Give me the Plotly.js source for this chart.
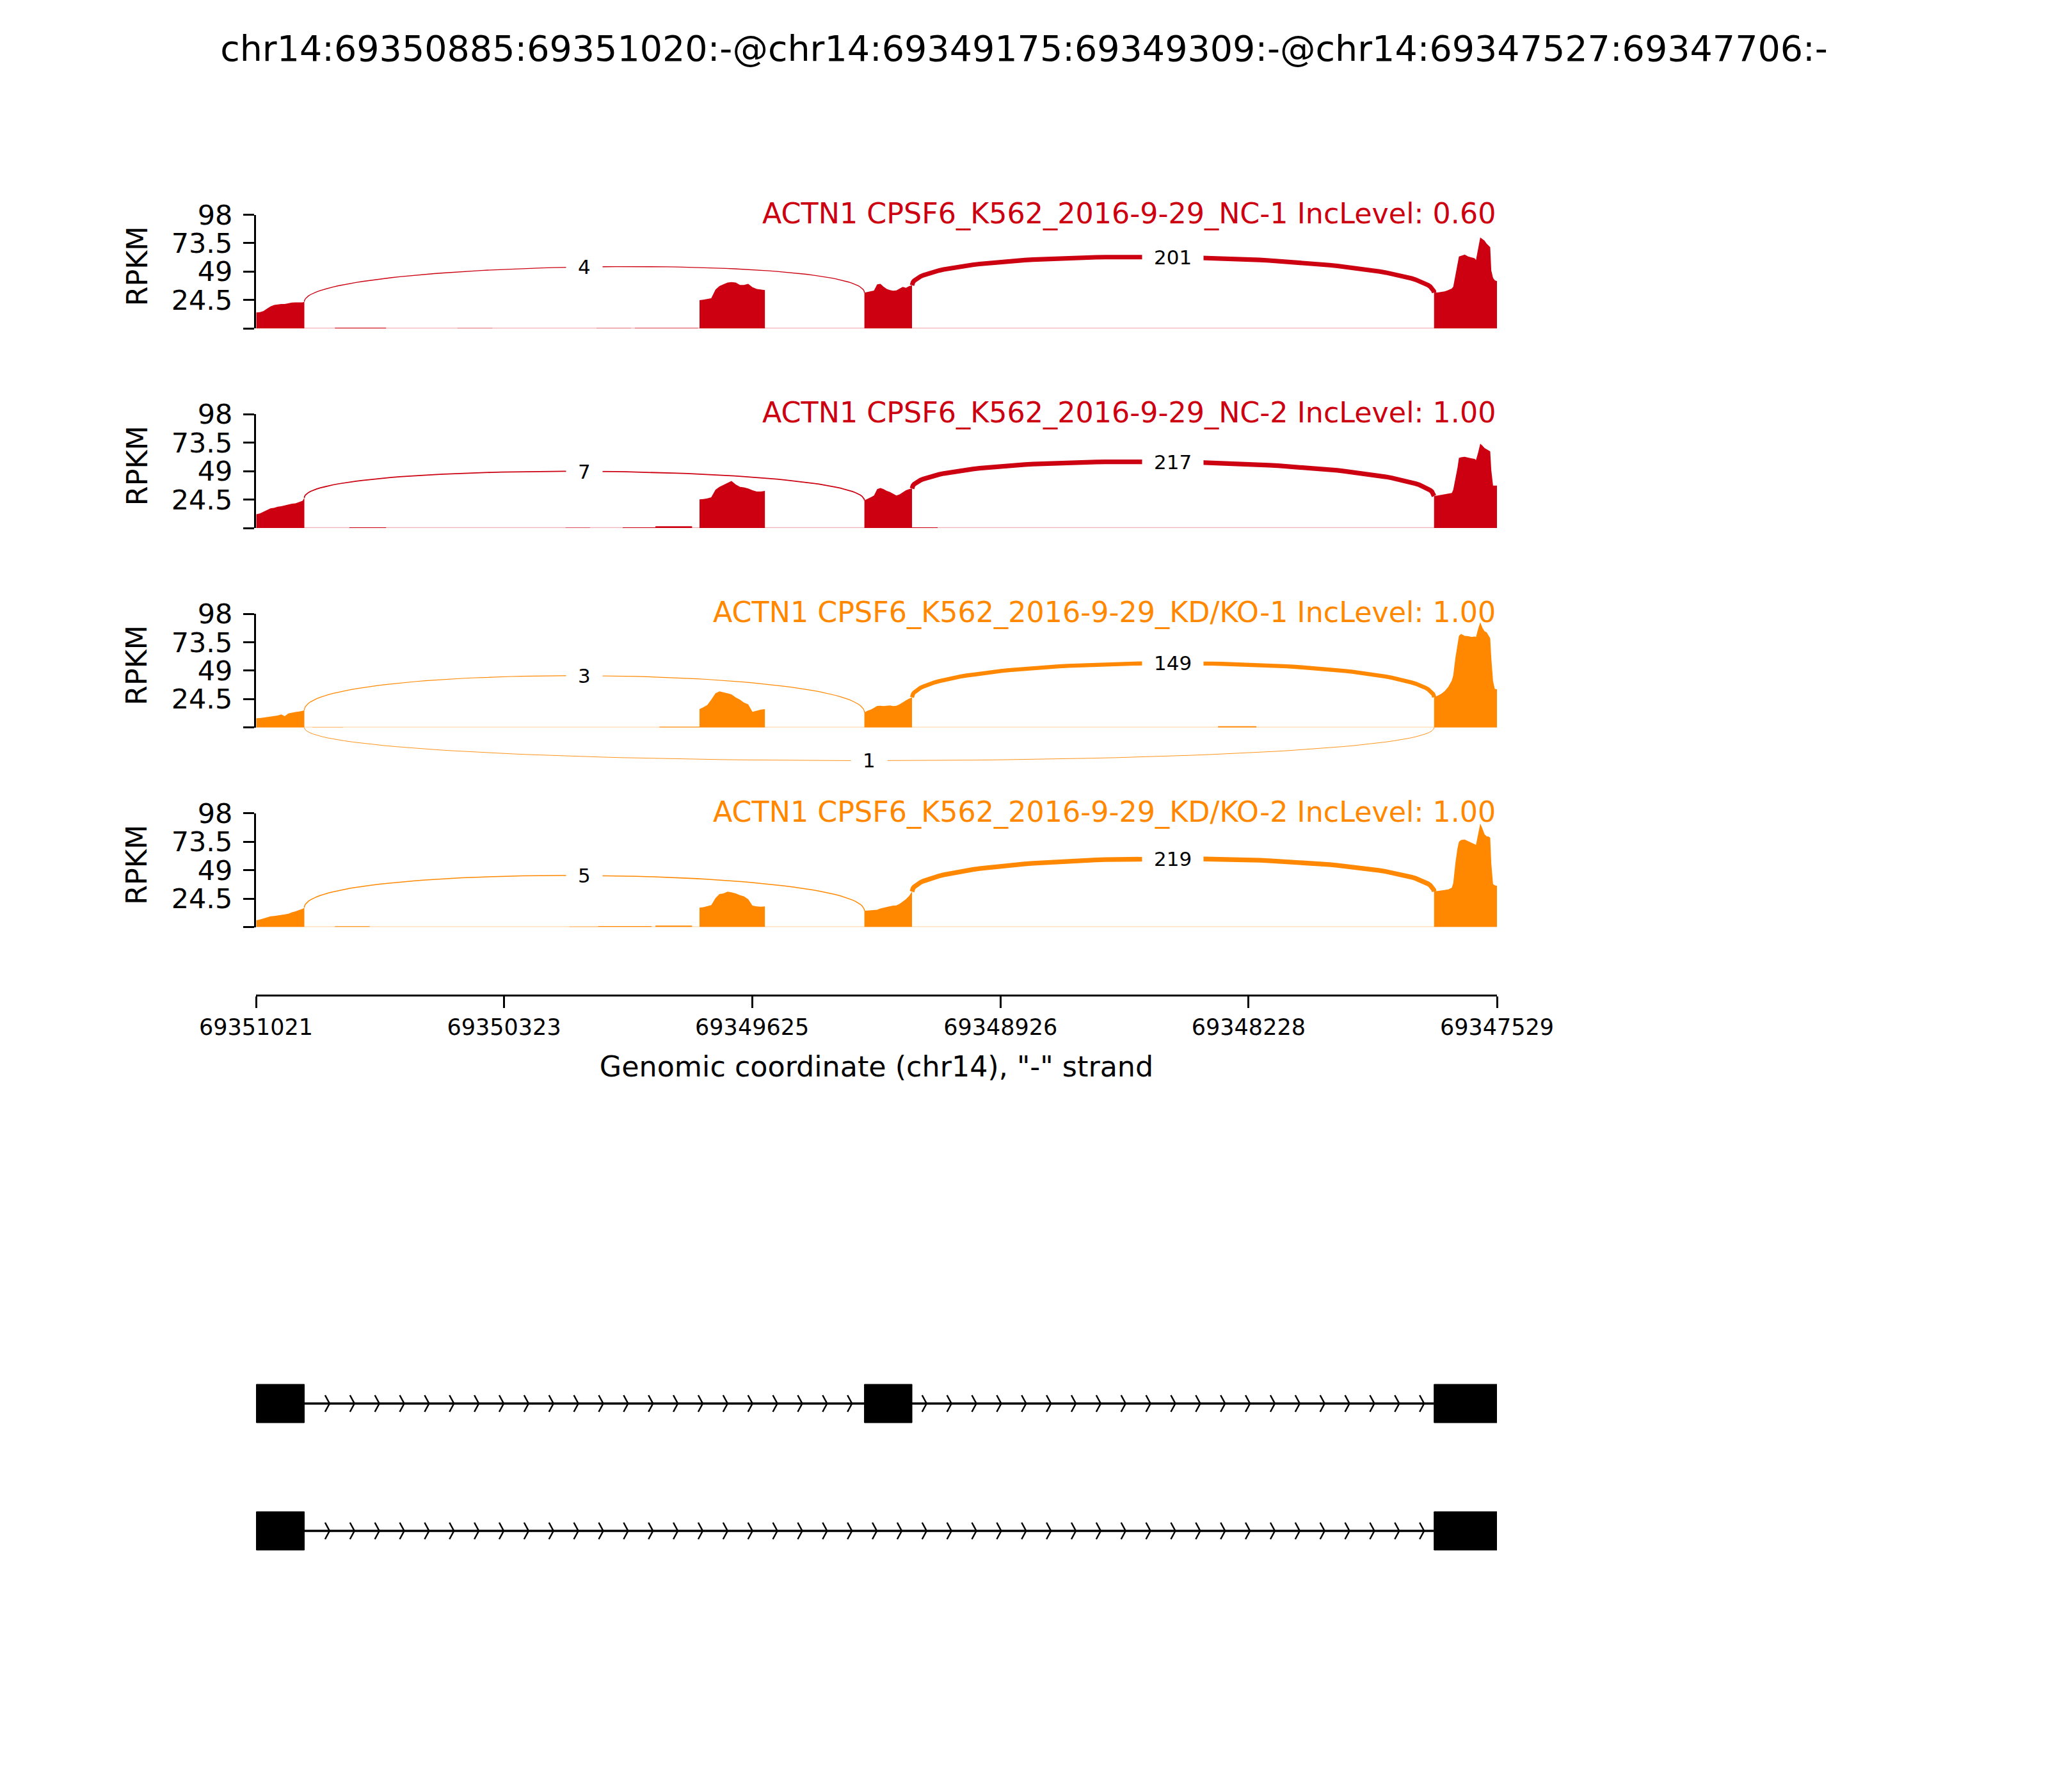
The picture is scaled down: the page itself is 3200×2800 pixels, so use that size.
<!DOCTYPE html>
<html><head><meta charset="utf-8">
<script src="https://cdn.plot.ly/plotly-3.0.1.min.js"></script>
<style>body{margin:0;background:#fff}</style>
</head><body><div id="chart" style="width:3200px;height:2800px"></div>
<script>
// ---------------- data ----------------
const chartTitle = "chr14:69350885:69351020:-@chr14:69349175:69349309:-@chr14:69347527:69347706:-";
const xAxisTitle = 'Genomic coordinate (chr14), "-" strand';
const yAxisTitle = "RPKM";
const sampleNames = [
  "ACTN1 CPSF6_K562_2016-9-29_NC-1 IncLevel: 0.60",
  "ACTN1 CPSF6_K562_2016-9-29_NC-2 IncLevel: 1.00",
  "ACTN1 CPSF6_K562_2016-9-29_KD/KO-1 IncLevel: 1.00",
  "ACTN1 CPSF6_K562_2016-9-29_KD/KO-2 IncLevel: 1.00"
];
const sampleColors = ["#CC0011", "#CC0011", "#FF8800", "#FF8800"];
const baseColors = ["rgba(204,0,17,0.3)", "rgba(204,0,17,0.3)", "rgba(255,136,0,0.3)", "rgba(255,136,0,0.3)"];

const xTickVals = [69351021, 69350323, 69349625, 69348926, 69348228, 69347529];
const yTickVals = [0, 24.5, 49, 73.5, 98];
const yTickText = ["", "24.5", "49", "73.5", "98"];
const yMax = 98;

// exons of the event (minus strand)
const exonStarts = [69350885, 69349175, 69347527];
const exonEnds   = [69351020, 69349309, 69347706];
const isoformExons = [[0, 1, 2], [0, 2]];

// coverage positions per covered block
const posExon1 = [69351020, 69351010, 69351000, 69350990, 69350980, 69350970, 69350960, 69350950, 69350940, 69350930, 69350920, 69350910, 69350900, 69350890, 69350885];
const posMid   = [69349773, 69349762, 69349751, 69349740, 69349728, 69349717, 69349706, 69349694, 69349683, 69349671, 69349659, 69349648, 69349636, 69349624, 69349612, 69349600, 69349589];
const posExon2 = [69349309, 69349300, 69349291, 69349282, 69349273, 69349264, 69349255, 69349246, 69349237, 69349228, 69349219, 69349210, 69349201, 69349192, 69349183, 69349175];
const posExon3 = [69347706, 69347696, 69347686, 69347676, 69347666, 69347656, 69347652, 69347646, 69347640, 69347636, 69347630, 69347620, 69347610, 69347600, 69347592, 69347588, 69347582, 69347576, 69347570, 69347564, 69347558, 69347552, 69347548, 69347545, 69347540, 69347535, 69347529];

const covExon1 = [
  [13.7, 14, 15, 17, 19, 20.3, 20.8, 21, 21, 21.8, 22.3, 22.5, 22.3, 22.5, 23],
  [11.9, 12.5, 14, 15.5, 17, 17.4, 18.3, 18.7, 19.5, 20.5, 21, 21.3, 22.5, 23.5, 26],
  [8, 8.2, 8.6, 9.2, 9.5, 9.8, 10.4, 11.3, 9.8, 12.2, 13, 13.4, 13.8, 14.3, 15],
  [5.9, 6.5, 7.5, 8.5, 9.3, 9.6, 9.9, 10.5, 10.9, 11.5, 12.8, 13.5, 14.5, 15.8, 16.8]
];
const covMid = [
  [24.4, 24.8, 25.2, 26, 33.5, 36.5, 38, 39.5, 40, 39.5, 37.5, 37.5, 38.5, 35.5, 34, 33.5, 33],
  [24.7, 25, 25.5, 26.5, 33, 35.5, 37, 39, 40.5, 37.5, 35.5, 35, 34, 32.5, 31.5, 31.5, 32],
  [15.9, 17.5, 19.5, 24, 29.5, 31.2, 30.5, 29.5, 28.5, 26, 24, 21.5, 20, 13.5, 14.5, 15.5, 15.9],
  [16.8, 17.2, 18.2, 19, 25, 28.5, 29, 30.5, 30, 29, 27.5, 26.5, 24, 18.5, 17.8, 17.5, 17.8]
];
const covExon2 = [
  [30.8, 31.3, 31.8, 32.6, 38, 38.5, 36, 34, 33, 32.5, 32.8, 34.5, 35.8, 35, 36.5, 37.2],
  [23.8, 25, 26.5, 28, 33.5, 34.5, 33.5, 32, 31, 29.5, 28, 29, 31, 32.5, 33.5, 34],
  [13.1, 14.5, 15.5, 17, 18.6, 18.8, 18.5, 18.8, 19, 18.5, 18.8, 20, 22, 23.5, 25, 26],
  [14.1, 14.3, 14.6, 14.8, 15, 16, 16.8, 17.5, 18, 18.5, 18.7, 20, 21.8, 24, 27, 30.6]
];
const covExon3 = [
  [30.8, 31, 31.5, 32, 33, 34.4, 36, 45, 55, 62, 62.5, 63.7, 62, 61, 60.5, 59, 68, 78.4, 77, 75.6, 73, 71, 70, 50, 43.6, 41.5, 40.8],
  [27.5, 28, 28.5, 29, 29.5, 30.2, 33, 42, 52, 60.4, 61, 61.4, 60.5, 60, 59.5, 58.6, 65, 72.7, 71, 69, 67.8, 66.5, 66, 50, 36.6, 36.5, 36.5],
  [26, 27.5, 29, 31.5, 35, 40.5, 45, 60, 72, 79, 80.7, 79, 78.8, 78, 78.5, 78, 85, 90.7, 86, 83, 82, 79, 77, 60, 40, 33.2, 33],
  [30.6, 31, 31.5, 32, 32.4, 34, 37.9, 55, 68, 73.6, 75, 75.5, 74, 72.7, 71.5, 70.9, 80, 89.2, 85, 80, 78.2, 78, 77, 55, 37, 36, 35.5]
];
// faint intronic coverage blocks
const lowStart = [
  [69350799, 69350454, 69350063, 69349955],
  [69350758, 69350150, 69349989, 69349897, 69349175],
  [69350862, 69349886, 69348314],
  [69350799, 69350139, 69350058, 69349897, 69347973]
];
const lowEnd = [
  [69350655, 69350356, 69349966, 69349777],
  [69350655, 69350081, 69349897, 69349794, 69349103],
  [69350776, 69349773, 69348206],
  [69350701, 69350058, 69349908, 69349794, 69347878]
];
const lowVal = [
  [0.6, 0.3, 0.3, 0.4],
  [0.5, 0.3, 0.5, 1.5, 0.5],
  [0.3, 0.7, 1.1],
  [0.7, 0.4, 0.9, 1.3, 0.3]
];

// junctions: exon1->exon2, exon2->exon3, exon1->exon3
const juncLeft  = [69350885, 69349175, 69350885];
const juncRight = [69349309, 69347706, 69347706];
const juncCounts = [[4, 201, 0], [7, 217, 0], [3, 149, 1], [5, 219, 0]];
const juncLabelY = [[53, 61.5, null], [48.8, 57, null], [44.7, 55.4, -28.5], [44.5, 59, null]];

// ---------------- layout constants ----------------
const W = 3200, H = 2800;
const FONT = "DejaVu Sans";
const xLeftPx = 400, xRightPx = 2339;
const panelTopPx = [335.5, 647.3, 959.1, 1270.9];
const panelHpx = 177.7;
const belowExtraPx = 120;
const pyTop = px => 1 - px / H;

function blocks(k) {
  const b = [
    {p: posExon1, v: covExon1[k]},
    {p: posMid, v: covMid[k]},
    {p: posExon2, v: covExon2[k]},
    {p: posExon3, v: covExon3[k]}
  ];
  lowStart[k].forEach((s, i) => b.push({p: [s, lowEnd[k][i]], v: [lowVal[k][i], lowVal[k][i]]}));
  b.sort((a, c) => c.p[0] - a.p[0]);
  return b;
}
function covAt(k, pos) {
  const bl = blocks(k);
  let best = null, bd = 1e9;
  bl.forEach(b => b.p.forEach((p, i) => { const d = Math.abs(p - pos); if (d < bd) { bd = d; best = b.v[i]; } }));
  return best;
}
function bez(a, b, c, d, t) {
  const u = 1 - t;
  return u*u*u*a + 3*u*u*t*b + 3*u*t*t*c + t*t*t*d;
}
function arcWidth(c) {
  const r = Math.log(c + 1) / Math.log(220);
  return 0.8 + 6.5 * r * r;
}

const traces = [];
const annotations = [];
const layout = {
  width: W, height: H,
  margin: {l: 0, r: 0, t: 0, b: 0},
  paper_bgcolor: "white", plot_bgcolor: "rgba(0,0,0,0)",
  showlegend: false,
  font: {family: FONT, color: "black"},
  title: {text: chartTitle, font: {family: FONT, size: 55.5, color: "black"},
          x: 0.5, xanchor: "center", xref: "paper", y: 1 - 76 / H, yanchor: "middle"},
  xaxis: {
    domain: [xLeftPx / W, xRightPx / W],
    range: [xTickVals[0], xTickVals[xTickVals.length - 1]], autorange: false,
    anchor: "free", position: 1 - 1555 / H, side: "bottom",
    showline: true, linewidth: 3, linecolor: "black",
    ticks: "outside", ticklen: 18, tickwidth: 3, tickcolor: "black",
    tickvals: xTickVals, ticktext: xTickVals.map(String),
    tickfont: {family: FONT, size: 35, color: "black"},
    showgrid: false, zeroline: false,
    title: {text: xAxisTitle, font: {family: FONT, size: 44.4, color: "black"}, standoff: 26}
  },
  annotations: annotations
};

for (let k = 0; k < 4; k++) {
  const yName = k === 0 ? "y" : "y" + (k + 1);
  const yKey = k === 0 ? "yaxis" : "yaxis" + (k + 1);
  const bName = "y" + (5 + k), bKey = "yaxis" + (5 + k);
  const top = panelTopPx[k], bot = top + panelHpx;
  layout[yKey] = {
    domain: [pyTop(bot), pyTop(top)], range: [0, yMax], autorange: false, anchor: "x",
    showline: true, linewidth: 3, linecolor: "black",
    ticks: "outside", ticklen: 17, tickwidth: 3, tickcolor: "black",
    tickvals: yTickVals, ticktext: yTickText, ticklabelstandoff: 8,
    tickfont: {family: FONT, size: 43, color: "black"},
    showgrid: false, zeroline: false
  };
  const unitPerPx = yMax / panelHpx;
  layout[bKey] = {
    domain: [pyTop(bot + belowExtraPx), pyTop(top)],
    range: [-belowExtraPx * unitPerPx, yMax], autorange: false,
    visible: false, anchor: "x", showgrid: false, zeroline: false
  };

  // baseline
  traces.push({x: [xTickVals[0], xTickVals[xTickVals.length - 1]], y: [0, 0], yaxis: yName,
    mode: "lines", line: {color: baseColors[k], width: 2.5}, hoverinfo: "skip"});

  // coverage
  const cx = [], cy = [];
  blocks(k).forEach(b => {
    cx.push(b.p[0]); cy.push(0);
    b.p.forEach((p, i) => { cx.push(p); cy.push(b.v[i]); });
    cx.push(b.p[b.p.length - 1]); cy.push(0);
  });
  traces.push({x: cx, y: cy, yaxis: yName, mode: "lines", fill: "tozeroy",
    fillcolor: sampleColors[k], line: {width: 0, color: sampleColors[k]}, hoverinfo: "skip"});

  // junction arcs
  for (let j = 0; j < juncLeft.length; j++) {
    const c = juncCounts[k][j];
    if (!c) continue;
    const ly = juncLabelY[k][j];
    const x1 = juncLeft[j], x2 = juncRight[j];
    let y1, y2, hgt, axis;
    if (ly >= 0) {
      y1 = covAt(k, x1); y2 = covAt(k, x2);
      hgt = (ly - (y1 + y2) / 2) / 0.75; axis = yName;
    } else {
      y1 = 0; y2 = 0; hgt = ly / 0.75; axis = bName;
    }
    const ax = [], ay = [];
    for (let i = 0; i <= 80; i++) {
      const t = i / 80;
      ax.push(bez(x1, x1, x2, x2, t));
      ay.push(bez(y1, y1 + hgt, y2 + hgt, y2, t));
    }
    traces.push({x: ax, y: ay, yaxis: axis, mode: "lines",
      line: {color: sampleColors[k], width: arcWidth(c)}, hoverinfo: "skip"});
    annotations.push({x: bez(x1, x1, x2, x2, 0.5), y: bez(y1, y1 + hgt, y2 + hgt, y2, 0.5),
      xref: "x", yref: axis, text: String(c), showarrow: false, bgcolor: "white",
      borderpad: 18, font: {family: FONT, size: 31, color: "black"},
      xanchor: "center", yanchor: "middle"});
  }

  // sample title
  annotations.push({x: xRightPx / W, y: pyTop(top - 2), xref: "paper", yref: "paper",
    text: sampleNames[k], showarrow: false, xanchor: "right", yanchor: "middle",
    font: {family: FONT, size: 44.4, color: sampleColors[k]}});
  // y axis label
  annotations.push({x: 214 / W, y: pyTop(top + panelHpx / 2 - 8), xref: "paper", yref: "paper",
    text: yAxisTitle, showarrow: false, textangle: -90, xanchor: "center", yanchor: "middle",
    font: {family: FONT, size: 44.4, color: "black"}});
}

// ---------------- gene track ----------------
const geneTopPx = 2100, geneBotPx = 2480;
const rowPx = 199, row1CenterPx = 2193;
const gTop = 1 + (row1CenterPx - geneTopPx) / rowPx;
const gBot = gTop - (geneBotPx - geneTopPx) / rowPx;
layout.yaxis9 = {domain: [pyTop(geneBotPx), pyTop(geneTopPx)], range: [gBot, gTop], autorange: false,
  visible: false, anchor: "x", showgrid: false, zeroline: false};
const boxHalf = 30 / rowPx, chevHalf = 13 / rowPx;
const bpPerPx = (xTickVals[0] - xTickVals[xTickVals.length - 1]) / (xRightPx - xLeftPx);
const chevW = 7 * bpPerPx, chevStep = 70, chevFirst = 69350814;

isoformExons.forEach((ex, r) => {
  const yr = 1 - r;
  const ids = ex.slice().sort((a, b) => exonEnds[b] - exonEnds[a]);
  // intron line
  const first = ids[0], last = ids[ids.length - 1];
  traces.push({x: [exonStarts[first], exonEnds[last]], y: [yr, yr], yaxis: "y9", mode: "lines",
    line: {color: "black", width: 3.5}, hoverinfo: "skip"});
  // chevrons
  const chx = [], chy = [];
  const lo = exonEnds[last], hi = exonStarts[first];
  for (let g = chevFirst; g > lo; g -= chevStep) {
    if (g >= hi) continue;
    const inside = ids.some(e => g + chevW >= exonStarts[e] && g <= exonEnds[e]);
    if (inside) continue;
    chx.push(g + chevW, g, g + chevW, null);
    chy.push(yr + chevHalf, yr, yr - chevHalf, null);
  }
  traces.push({x: chx, y: chy, yaxis: "y9", mode: "lines", connectgaps: false,
    line: {color: "black", width: 2.5}, hoverinfo: "skip"});
  // exon boxes
  ids.forEach(e => {
    traces.push({x: [exonEnds[e], exonStarts[e], exonStarts[e], exonEnds[e], exonEnds[e]],
      y: [yr - boxHalf, yr - boxHalf, yr + boxHalf, yr + boxHalf, yr - boxHalf],
      yaxis: "y9", mode: "lines", fill: "toself", fillcolor: "black",
      line: {color: "black", width: 1}, hoverinfo: "skip"});
  });
});

Plotly.newPlot("chart", traces, layout, {staticPlot: true, displayModeBar: false});
</script>
</body></html>
